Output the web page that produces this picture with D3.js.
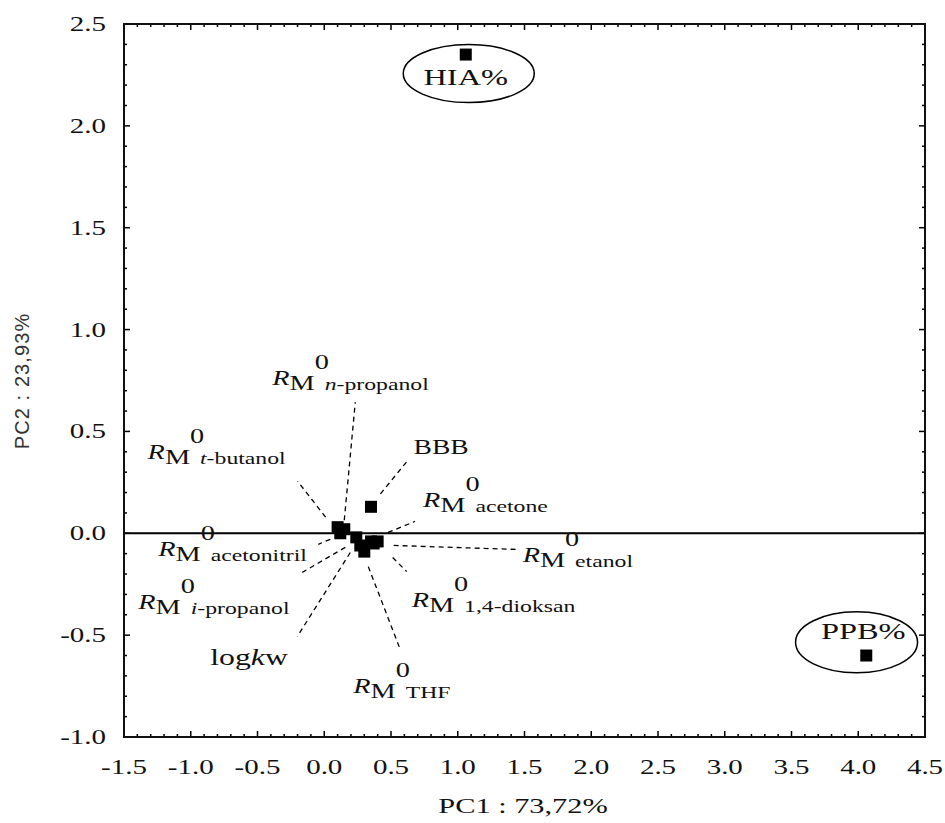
<!DOCTYPE html>
<html><head><meta charset="utf-8">
<script src="https://cdn.jsdelivr.net/npm/d3@7"></script>
<style>body{margin:0;background:#fff}</style>
</head><body><svg id="c" width="945" height="823" xmlns="http://www.w3.org/2000/svg"></svg>
<script>
// ---------- data ----------
const xTicks = [-1.5,-1.0,-0.5,0.0,0.5,1.0,1.5,2.0,2.5,3.0,3.5,4.0,4.5];
const xTickLabels = ["-1.5","-1.0","-0.5","0.0","0.5","1.0","1.5","2.0","2.5","3.0","3.5","4.0","4.5"];
const yTicks = [-1.0,-0.5,0.0,0.5,1.0,1.5,2.0,2.5];
const yTickLabels = ["-1.0","-0.5","0.0","0.5","1.0","1.5","2.0","2.5"];
const variables = ["HIA%","PPB%","BBB","n-propanol","t-butanol","acetonitril","i-propanol","logkw","THF","acetone","1,4-dioksan","etanol"];
const pc1Scores = [1.06, 4.06, 0.35, 0.15, 0.10, 0.12, 0.24, 0.27, 0.30, 0.35, 0.37, 0.40];
const pc2Scores = [2.35, -0.60, 0.13, 0.02, 0.03, 0.00, -0.02, -0.06, -0.09, -0.04, -0.05, -0.04];
const xTitle = "PC1 : 73,72%";
const yTitle = "PC2 : 23,93%";

// ---------- layout / styles ----------
const S = 1.38;           // horizontal stretch of the text, as in the reference
const ink = "#111";
const svg = d3.select("#c");
const x = d3.scaleLinear().domain([-1.5, 4.5]).range([124, 925]);
const y = d3.scaleLinear().domain([-1.0, 2.5]).range([737, 24]);

// annotation placement (pixel offsets from each point)
const annot = {
  "HIA%":        {kind:"plain", size:23.5, anchor:"middle", dx:0, dy:30, ellipse:[3,19,65.5,29]},
  "PPB%":        {kind:"plain", size:23.5, anchor:"middle", dx:-3, dy:-17, ellipse:[-9.7,-13.2,61,30.5]},
  "BBB":         {kind:"plain", size:20, anchor:"start", dx:42.5, dy:-53, leader:[9.5,-13,36.5,-46]},
  "n-propanol":  {kind:"rm", it:"n", rest:"-propanol", dx:-72, dy:-144, leader:[0,-9,11,-127]},
  "t-butanol":   {kind:"rm", it:"t", rest:"-butanol", dx:-190, dy:-68, leader:[-12,-10,-40,-46]},
  "acetonitril": {kind:"rm", it:"", rest:"acetonitril", dx:-182, dy:23, leader:[-10,6,-22,11]},
  "i-propanol":  {kind:"rm", it:"i", rest:"-propanol", dx:-218, dy:72, leader:[-11,10,-54,35]},
  "logkw":       {kind:"log", size:23, dx:-150, dy:119, leader:[-10,7,-63,91]},
  "THF":         {kind:"rm", it:"", rest:"THF", dx:-11, dy:141, leader:[4,15,36,98]},
  "acetone":     {kind:"rm", it:"", rest:"acetone", dx:52, dy:-34, leader:[17,-9,44,-20]},
  "1,4-dioksan": {kind:"rm", it:"", rest:"1,4-dioksan", dx:38, dy:64, leader:[19,14,33,28]},
  "etanol":      {kind:"rm", it:"", rest:"etanol", dx:145, dy:21, leader:[16,4,138,8]}
};

function stretchedText(g, px, py, anchor) {
  return g.append("text")
    .attr("transform", `translate(${px},${py}) scale(${S},1)`)
    .attr("text-anchor", anchor)
    .attr("font-family", "'Liberation Serif','Times New Roman',serif")
    .attr("fill", ink);
}

// ---------- frame & zero line ----------
const gAxes = svg.append("g");
gAxes.append("line")
  .attr("x1", x(-1.5)).attr("x2", x(4.5)).attr("y1", y(0)).attr("y2", y(0))
  .attr("stroke", "#000").attr("stroke-width", 2);

// ticks (inward, on all four sides)
const minorX = d3.range(-15, 46).map(d => d / 10);
const minorY = d3.range(-10, 26).map(d => d / 10);
const isMajor = v => Math.abs(v * 2 - Math.round(v * 2)) < 1e-6;
minorX.forEach(v => {
  const L = isMajor(v) ? 6 : 3;
  gAxes.append("line").attr("x1", x(v)).attr("x2", x(v)).attr("y1", y(-1)).attr("y2", y(-1) - L)
    .attr("stroke", "#000").attr("stroke-width", 1.5);
  gAxes.append("line").attr("x1", x(v)).attr("x2", x(v)).attr("y1", y(2.5)).attr("y2", y(2.5) + L)
    .attr("stroke", "#000").attr("stroke-width", 1.5);
});
minorY.forEach(v => {
  const L = isMajor(v) ? 6 : 3;
  gAxes.append("line").attr("x1", x(-1.5)).attr("x2", x(-1.5) + L).attr("y1", y(v)).attr("y2", y(v))
    .attr("stroke", "#000").attr("stroke-width", 1.5);
  gAxes.append("line").attr("x1", x(4.5)).attr("x2", x(4.5) - L).attr("y1", y(v)).attr("y2", y(v))
    .attr("stroke", "#000").attr("stroke-width", 1.5);
});
gAxes.append("rect")
  .attr("x", x(-1.5)).attr("y", y(2.5))
  .attr("width", x(4.5) - x(-1.5)).attr("height", y(-1) - y(2.5))
  .attr("fill", "none").attr("stroke", "#111").attr("stroke-width", 2);

// tick labels
xTicks.forEach((v, i) => {
  stretchedText(gAxes, x(v), 774, "middle").attr("font-size", 21).text(xTickLabels[i]);
});
yTicks.forEach((v, i) => {
  stretchedText(gAxes, 106, y(v) + 7, "end").attr("font-size", 21).text(yTickLabels[i]);
});

// axis titles
stretchedText(gAxes, 523, 813, "middle").attr("font-size", 22).text(xTitle);
svg.append("text")
  .attr("transform", `translate(29,${381}) rotate(-90)`)
  .attr("text-anchor", "middle")
  .attr("font-family", "'Liberation Sans',Arial,sans-serif")
  .attr("font-size", 20).attr("letter-spacing", 1.1)
  .attr("fill", "#333")
  .text(yTitle);

// ---------- points ----------
const pts = variables.map((v, i) => ({name: v, px: x(pc1Scores[i]), py: y(pc2Scores[i])}));

// leaders
const gLead = svg.append("g");
pts.forEach(p => {
  const a = annot[p.name];
  if (!a.leader) return;
  gLead.append("line")
    .attr("x1", p.px + a.leader[0]).attr("y1", p.py + a.leader[1])
    .attr("x2", p.px + a.leader[2]).attr("y2", p.py + a.leader[3])
    .attr("stroke", "#000").attr("stroke-width", 1.3).attr("stroke-dasharray", "5,4");
});

// squares
const sq = 12;
svg.append("g").selectAll("rect").data(pts).join("rect")
  .attr("x", d => d.px - sq / 2).attr("y", d => d.py - sq / 2)
  .attr("width", sq).attr("height", sq).attr("fill", "#000");

// labels
const gLab = svg.append("g");
pts.forEach(p => {
  const a = annot[p.name];
  const lx = p.px + a.dx, ly = p.py + a.dy;
  if (a.kind === "plain") {
    stretchedText(gLab, lx, ly, a.anchor).attr("font-size", a.size).text(p.name);
  } else if (a.kind === "log") {
    const t = stretchedText(gLab, lx, ly, "start").attr("font-size", a.size);
    t.append("tspan").text("log");
    t.append("tspan").attr("font-style", "italic").text("k");
    t.append("tspan").text("w");
  } else {
    const t = stretchedText(gLab, lx, ly, "start").attr("font-size", 20.5);
    t.append("tspan").attr("font-style", "italic").text("R");
    t.append("tspan").attr("dy", 5).text("M");
    t.append("tspan").attr("dy", -21).attr("dx", 0).text("0");
    const first = t.append("tspan").attr("dy", 21).attr("dx", -3).attr("font-size", 17.2);
    if (a.it) {
      first.attr("font-style", "italic").text(a.it);
      t.append("tspan").attr("font-size", 17.2).text(a.rest);
    } else {
      first.text(a.rest);
    }
  }
  if (a.ellipse) {
    gLab.append("ellipse")
      .attr("cx", p.px + a.ellipse[0]).attr("cy", p.py + a.ellipse[1])
      .attr("rx", a.ellipse[2]).attr("ry", a.ellipse[3])
      .attr("fill", "none").attr("stroke", "#000").attr("stroke-width", 1.5);
  }
});
</script>
</body></html>
